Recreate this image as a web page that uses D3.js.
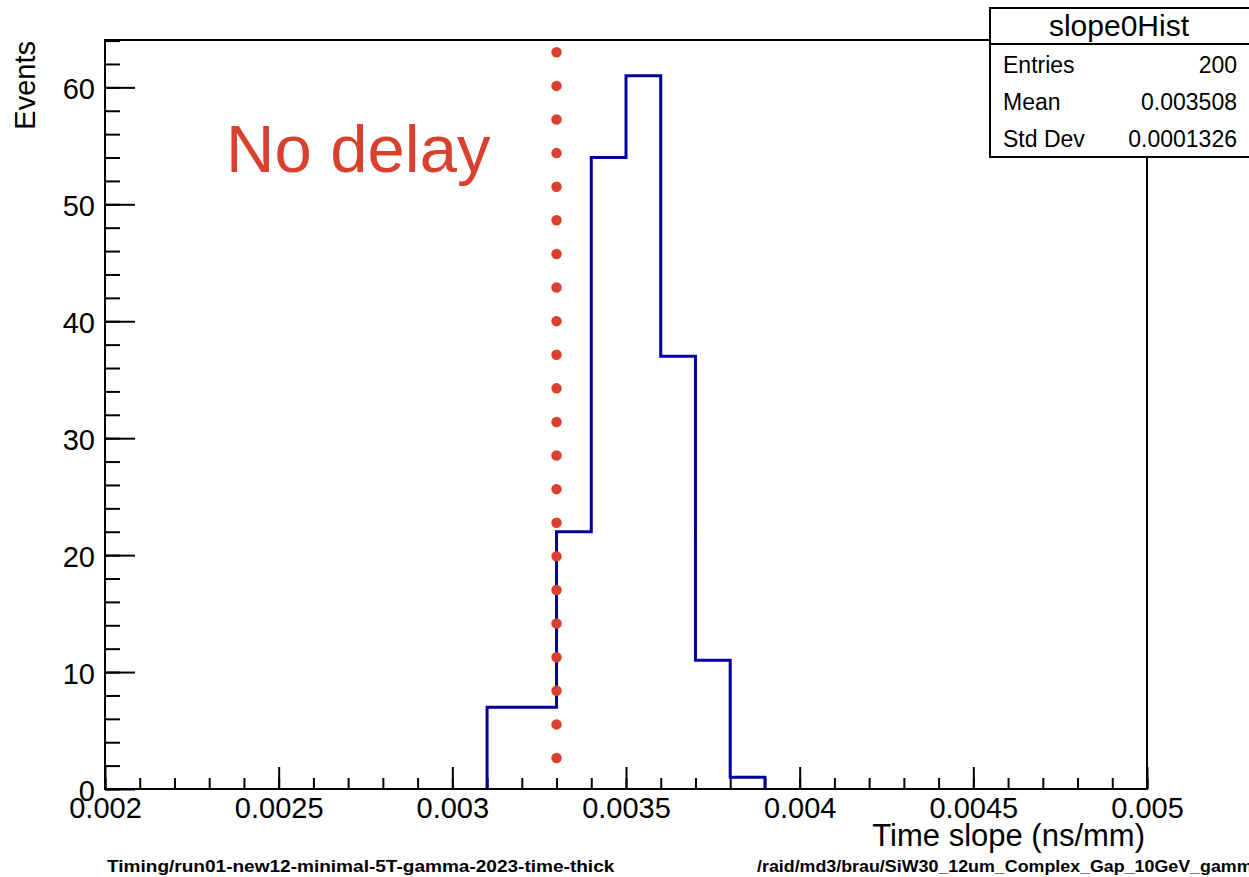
<!DOCTYPE html>
<html>
<head>
<meta charset="utf-8">
<script src="https://cdn.jsdelivr.net/npm/d3@7"></script>
<style>
  html, body { margin: 0; padding: 0; background: #fff; }
  svg { display: block; font-family: "Liberation Sans", Arial, Helvetica, sans-serif; }
</style>
</head>
<body>
<svg id="chart" width="1249" height="877"></svg>
<script>
// Histogram bin lower edges (ns/mm) and counts, bin width 0.0001
const binEdges = [0.0031, 0.0032, 0.0033, 0.0034, 0.0035, 0.0036, 0.0037, 0.0038];
const binCounts = [7, 7, 22, 54, 61, 37, 11, 1];
const binWidth = 0.0001;

// Axis ranges and tick labels
const xDomain = [0.002, 0.005];
const yDomain = [0, 64.05];
const xMajorTicks = [0.002, 0.0025, 0.003, 0.0035, 0.004, 0.0045, 0.005];
const xTickLabels = ["0.002", "0.0025", "0.003", "0.0035", "0.004", "0.0045", "0.005"];
const yMajorTicks = [0, 10, 20, 30, 40, 50, 60];
const yTickLabels = ["0", "10", "20", "30", "40", "50", "60"];

// Reference marker: dotted vertical line at 0.0033 ns/mm
const markerX = [0.0033];
const markerY = [2.65, 63.0];

// Statistics box
const statsTitle = "slope0Hist";
const statsNames = ["Entries", "Mean", "Std Dev"];
const statsValues = ["200", "0.003508", "0.0001326"];

const svg = d3.select("#chart");
const W = 1249, H = 877;
const frame = { left: 105, right: 1147, top: 40, bottom: 789 };

const x = d3.scaleLinear().domain(xDomain).range([frame.left, frame.right]);
const y = d3.scaleLinear().domain(yDomain).range([frame.bottom, frame.top]);

svg.append("rect").attr("width", W).attr("height", H).attr("fill", "#fff");

// Minor ticks
const xMinor = d3.range(0, 31).map(i => +(xDomain[0] + i * 0.0001).toFixed(5));
const yMinor = d3.range(0, 33).map(i => i * 2).filter(v => v <= yDomain[1]);

svg.append("g")
  .attr("transform", `translate(0,${frame.bottom})`)
  .call(d3.axisBottom(x).tickValues(xMinor).tickSize(-11).tickSizeOuter(0).tickFormat(""))
  .call(g => g.select(".domain").remove())
  .call(g => g.selectAll("line").attr("stroke", "#000").attr("stroke-width", 2));

svg.append("g")
  .attr("transform", `translate(${frame.left},0)`)
  .call(d3.axisLeft(y).tickValues(yMinor).tickSize(-15).tickSizeOuter(0).tickFormat(""))
  .call(g => g.select(".domain").remove())
  .call(g => g.selectAll("line").attr("stroke", "#000").attr("stroke-width", 2));

// Major ticks with labels
svg.append("g")
  .attr("transform", `translate(0,${frame.bottom})`)
  .call(d3.axisBottom(x).tickValues(xMajorTicks).tickSize(-22).tickSizeOuter(0)
    .tickFormat((d, i) => xTickLabels[i]))
  .call(g => g.select(".domain").remove())
  .call(g => g.selectAll("line").attr("stroke", "#000").attr("stroke-width", 2))
  .call(g => g.selectAll("text")
    .attr("y", 29).attr("dy", null)
    .attr("fill", "#000").attr("font-size", 29)
    .attr("font-family", "Liberation Sans, Arial, sans-serif"));

svg.append("g")
  .attr("transform", `translate(${frame.left},0)`)
  .call(d3.axisLeft(y).tickValues(yMajorTicks).tickSize(-30).tickSizeOuter(0)
    .tickFormat((d, i) => yTickLabels[i]))
  .call(g => g.select(".domain").remove())
  .call(g => g.selectAll("line").attr("stroke", "#000").attr("stroke-width", 2))
  .call(g => g.selectAll("text")
    .attr("x", -10).attr("dy", 11)
    .attr("fill", "#000").attr("font-size", 29)
    .attr("font-family", "Liberation Sans, Arial, sans-serif"));

// Histogram outline: outer step contour only
const last = binEdges.length - 1;
const stepPts = [[x(binEdges[0]), y(0)]];
binEdges.forEach((e, i) => {
  stepPts.push([x(e), y(binCounts[i])]);
  stepPts.push([x(e + binWidth), y(binCounts[i])]);
});
stepPts.push([x(binEdges[last] + binWidth), y(0)]);
svg.append("path")
  .attr("d", d3.line()(stepPts))
  .attr("fill", "none")
  .attr("stroke", "#0000a0")
  .attr("stroke-width", 3)
  .attr("stroke-linejoin", "miter");

// Dotted marker line
svg.append("line")
  .attr("x1", x(markerX[0])).attr("x2", x(markerX[0]))
  .attr("y1", y(markerY[0])).attr("y2", y(markerY[1]))
  .attr("stroke", "#d9402d")
  .attr("stroke-width", 10.5)
  .attr("stroke-linecap", "round")
  .attr("stroke-dasharray", `0 ${(y(markerY[0]) - y(markerY[1])) / 21}`);

// Frame
svg.append("rect")
  .attr("x", frame.left).attr("y", frame.top)
  .attr("width", frame.right - frame.left).attr("height", frame.bottom - frame.top)
  .attr("fill", "none").attr("stroke", "#000").attr("stroke-width", 2);

// Annotation
svg.append("text")
  .attr("x", 226).attr("y", 172)
  .attr("font-size", 67)
  .attr("fill", "#d9402d")
  .text("No delay");

// Axis titles
svg.append("text")
  .attr("x", frame.right - 2).attr("y", 846)
  .attr("text-anchor", "end")
  .attr("font-size", 31)
  .attr("fill", "#000")
  .text("Time slope (ns/mm)");

svg.append("text")
  .attr("transform", "translate(35,41) rotate(-90)")
  .attr("text-anchor", "end")
  .attr("font-size", 29)
  .attr("fill", "#000")
  .text("Events");

// Statistics box
const box = { left: 990, top: 8, right: 1250, sep: 44, bottom: 157 };
svg.append("rect")
  .attr("x", box.left).attr("y", box.top)
  .attr("width", box.right - box.left).attr("height", box.bottom - box.top)
  .attr("fill", "#fff").attr("stroke", "#000").attr("stroke-width", 2);
svg.append("line")
  .attr("x1", box.left).attr("x2", box.right)
  .attr("y1", box.sep).attr("y2", box.sep)
  .attr("stroke", "#000").attr("stroke-width", 2);
svg.append("text")
  .attr("x", 1119).attr("y", 36)
  .attr("text-anchor", "middle")
  .attr("font-size", 30)
  .attr("fill", "#000")
  .text(statsTitle);
const rowBase = [73, 110, 147];
statsNames.forEach((n, i) => {
  svg.append("text")
    .attr("x", 1003).attr("y", rowBase[i])
    .attr("font-size", 23).attr("fill", "#000")
    .text(n);
  svg.append("text")
    .attr("x", 1237).attr("y", rowBase[i])
    .attr("text-anchor", "end")
    .attr("font-size", 23).attr("fill", "#000")
    .text(statsValues[i]);
});

// Footer labels (slightly widened bold type)
svg.append("text")
  .attr("transform", "translate(107,872) scale(1.19,1)")
  .attr("font-size", 16).attr("font-weight", "bold").attr("fill", "#000")
  .text("Timing/run01-new12-minimal-5T-gamma-2023-time-thick");
svg.append("text")
  .attr("transform", "translate(757,872) scale(1.115,1)")
  .attr("font-size", 16).attr("font-weight", "bold").attr("fill", "#000")
  .text("/raid/md3/brau/SiW30_12um_Complex_Gap_10GeV_gamma");
</script>
</body>
</html>
